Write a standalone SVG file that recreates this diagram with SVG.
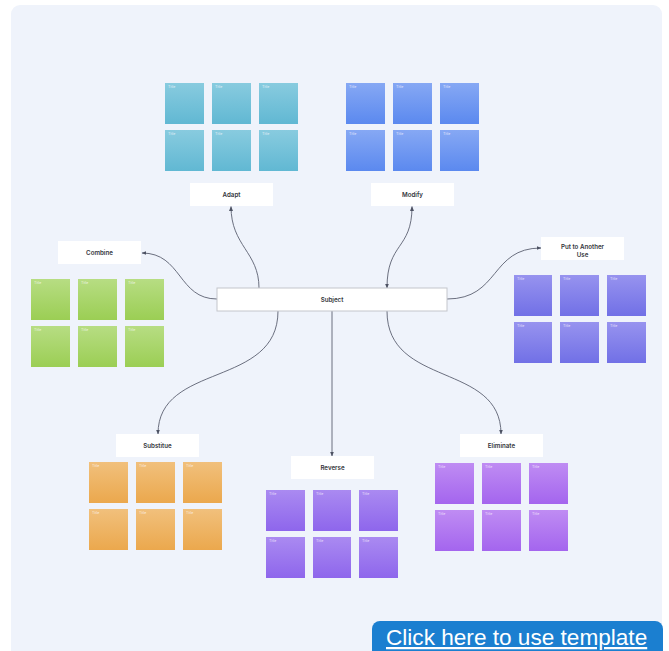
<svg xmlns="http://www.w3.org/2000/svg" width="669" height="651" viewBox="0 0 669 651">
  <defs>
    <linearGradient id="gCyan" x1="0" y1="0" x2="0" y2="1"><stop offset="0" stop-color="#88cbdf"/><stop offset="1" stop-color="#61b8d3"/></linearGradient>
    <linearGradient id="gBlue" x1="0" y1="0" x2="0" y2="1"><stop offset="0" stop-color="#86a8f4"/><stop offset="1" stop-color="#5b89ef"/></linearGradient>
    <linearGradient id="gGreen" x1="0" y1="0" x2="0" y2="1"><stop offset="0" stop-color="#b7dd83"/><stop offset="1" stop-color="#9bce54"/></linearGradient>
    <linearGradient id="gIndigo" x1="0" y1="0" x2="0" y2="1"><stop offset="0" stop-color="#9793ef"/><stop offset="1" stop-color="#7170e6"/></linearGradient>
    <linearGradient id="gOrange" x1="0" y1="0" x2="0" y2="1"><stop offset="0" stop-color="#f1c07c"/><stop offset="1" stop-color="#eba84d"/></linearGradient>
    <linearGradient id="gViolet" x1="0" y1="0" x2="0" y2="1"><stop offset="0" stop-color="#aa8af1"/><stop offset="1" stop-color="#8e66ec"/></linearGradient>
    <linearGradient id="gPurple" x1="0" y1="0" x2="0" y2="1"><stop offset="0" stop-color="#bf8cf3"/><stop offset="1" stop-color="#a465ee"/></linearGradient>
    <marker id="arrow" viewBox="0 0 8 8" refX="7" refY="4" markerWidth="5" markerHeight="5" orient="auto-start-reverse" markerUnits="userSpaceOnUse">
      <path d="M0,0.8 L7.5,4 L0,7.2 Z" fill="#4d5263"/>
    </marker>
  </defs>
  <style>
    .label { fill: #ffffff; }
    .lbl { font-family: Inter, "Liberation Sans", Arial, sans-serif; font-size: 6.2px; font-weight: 600; fill: #33353b; text-anchor: middle; }
    .title { font-family: Inter, "Liberation Sans", Arial, sans-serif; font-size: 3.6px; fill: #ffffff; fill-opacity: 0.75; }
    .conn { fill: none; stroke: #5b6070; stroke-width: 0.9; }
  </style>

  <!-- canvas -->
  <rect x="0" y="0" width="669" height="651" fill="#ffffff"/>
  <rect x="11" y="5" width="651" height="660" rx="9" fill="#eff3fb"/>

  <!-- connectors -->
  <g id="connectors" class="conn">
    <path d="M217,299 C178,299 182,253 142,253" marker-end="url(#arrow)"/>
    <path d="M259,288 C259,252 231,246 231,206.5" marker-end="url(#arrow)"/>
    <path d="M387,288 C387,242 412,250 412,206.5" marker-start="url(#arrow)" marker-end="url(#arrow)"/>
    <path d="M447,299 C500,299 490,248 541,248" marker-end="url(#arrow)"/>
    <path d="M278,311 C278,388 158,362 158,434" marker-end="url(#arrow)"/>
    <path d="M332,311 L332,456" marker-end="url(#arrow)"/>
    <path d="M387,311 C387,388 501,362 501,434" marker-end="url(#arrow)"/>
  </g>

  <!-- central node -->
  <g id="subject">
    <rect x="217" y="288" width="230" height="23" fill="#ffffff" stroke="#c4c6cc" stroke-width="1"/>
    <text class="lbl" x="332" y="301.5" font-size="6.6">Subject</text>
  </g>

  <!-- Adapt -->
  <g id="adapt">
    <rect class="label" x="190" y="183" width="83" height="23"/>
    <text class="lbl" x="231.5" y="197">Adapt</text>
    <g fill="url(#gCyan)">
      <rect x="165" y="83" width="39" height="41"/><rect x="212" y="83" width="39" height="41"/><rect x="259" y="83" width="39" height="41"/>
      <rect x="165" y="130" width="39" height="41"/><rect x="212" y="130" width="39" height="41"/><rect x="259" y="130" width="39" height="41"/>
    </g>
    <g class="title">
      <text x="168" y="88">Title</text><text x="215" y="88">Title</text><text x="262" y="88">Title</text>
      <text x="168" y="135">Title</text><text x="215" y="135">Title</text><text x="262" y="135">Title</text>
    </g>
  </g>

  <!-- Modify -->
  <g id="modify">
    <rect class="label" x="371" y="183" width="83" height="23"/>
    <text class="lbl" x="412.5" y="197">Modify</text>
    <g fill="url(#gBlue)">
      <rect x="346" y="83" width="39" height="41"/><rect x="393" y="83" width="39" height="41"/><rect x="440" y="83" width="39" height="41"/>
      <rect x="346" y="130" width="39" height="41"/><rect x="393" y="130" width="39" height="41"/><rect x="440" y="130" width="39" height="41"/>
    </g>
    <g class="title">
      <text x="349" y="88">Title</text><text x="396" y="88">Title</text><text x="443" y="88">Title</text>
      <text x="349" y="135">Title</text><text x="396" y="135">Title</text><text x="443" y="135">Title</text>
    </g>
  </g>

  <!-- Combine -->
  <g id="combine">
    <rect class="label" x="58" y="241" width="83" height="23"/>
    <text class="lbl" x="99.5" y="255">Combine</text>
    <g fill="url(#gGreen)">
      <rect x="31" y="279" width="39" height="41"/><rect x="78" y="279" width="39" height="41"/><rect x="125" y="279" width="39" height="41"/>
      <rect x="31" y="326" width="39" height="41"/><rect x="78" y="326" width="39" height="41"/><rect x="125" y="326" width="39" height="41"/>
    </g>
    <g class="title">
      <text x="34" y="284">Title</text><text x="81" y="284">Title</text><text x="128" y="284">Title</text>
      <text x="34" y="331">Title</text><text x="81" y="331">Title</text><text x="128" y="331">Title</text>
    </g>
  </g>

  <!-- Put to Another Use -->
  <g id="put-to-another-use">
    <rect class="label" x="541" y="237" width="83" height="23"/>
    <text class="lbl" x="582.5" y="249">Put to Another</text>
    <text class="lbl" x="582.5" y="257">Use</text>
    <g fill="url(#gIndigo)">
      <rect x="514" y="275" width="38" height="41"/><rect x="560" y="275" width="39" height="41"/><rect x="607" y="275" width="39" height="41"/>
      <rect x="514" y="322" width="38" height="41"/><rect x="560" y="322" width="39" height="41"/><rect x="607" y="322" width="39" height="41"/>
    </g>
    <g class="title">
      <text x="517" y="280">Title</text><text x="563" y="280">Title</text><text x="610" y="280">Title</text>
      <text x="517" y="327">Title</text><text x="563" y="327">Title</text><text x="610" y="327">Title</text>
    </g>
  </g>

  <!-- Substitue -->
  <g id="substitue">
    <rect class="label" x="116" y="434" width="83" height="23"/>
    <text class="lbl" x="157.5" y="448" font-weight="500">Substitue</text>
    <g fill="url(#gOrange)">
      <rect x="89" y="462" width="39" height="41"/><rect x="136" y="462" width="39" height="41"/><rect x="183" y="462" width="39" height="41"/>
      <rect x="89" y="509" width="39" height="41"/><rect x="136" y="509" width="39" height="41"/><rect x="183" y="509" width="39" height="41"/>
    </g>
    <g class="title">
      <text x="92" y="467">Title</text><text x="139" y="467">Title</text><text x="186" y="467">Title</text>
      <text x="92" y="514">Title</text><text x="139" y="514">Title</text><text x="186" y="514">Title</text>
    </g>
  </g>

  <!-- Reverse -->
  <g id="reverse">
    <rect class="label" x="291" y="456" width="83" height="23"/>
    <text class="lbl" x="332.5" y="470" font-weight="500">Reverse</text>
    <g fill="url(#gViolet)">
      <rect x="266" y="490" width="39" height="41"/><rect x="313" y="490" width="38" height="41"/><rect x="359" y="490" width="39" height="41"/>
      <rect x="266" y="537" width="39" height="41"/><rect x="313" y="537" width="38" height="41"/><rect x="359" y="537" width="39" height="41"/>
    </g>
    <g class="title">
      <text x="269" y="495">Title</text><text x="316" y="495">Title</text><text x="362" y="495">Title</text>
      <text x="269" y="542">Title</text><text x="316" y="542">Title</text><text x="362" y="542">Title</text>
    </g>
  </g>

  <!-- Eliminate -->
  <g id="eliminate">
    <rect class="label" x="460" y="434" width="83" height="23"/>
    <text class="lbl" x="501.5" y="448">Eliminate</text>
    <g fill="url(#gPurple)">
      <rect x="435" y="463" width="39" height="41"/><rect x="482" y="463" width="39" height="41"/><rect x="529" y="463" width="39" height="41"/>
      <rect x="435" y="510" width="39" height="41"/><rect x="482" y="510" width="39" height="41"/><rect x="529" y="510" width="39" height="41"/>
    </g>
    <g class="title">
      <text x="438" y="468">Title</text><text x="485" y="468">Title</text><text x="532" y="468">Title</text>
      <text x="438" y="515">Title</text><text x="485" y="515">Title</text><text x="532" y="515">Title</text>
    </g>
  </g>

  <!-- call-to-action button -->
  <g id="template-button">
    <rect x="372" y="621" width="291" height="40" rx="8" fill="#1b7fd0"/>
    <text x="386" y="645" font-family="'Liberation Sans', Arial, sans-serif" font-size="22.6" fill="#ffffff" text-decoration="underline">Click here to use template</text>
  </g>
</svg>
